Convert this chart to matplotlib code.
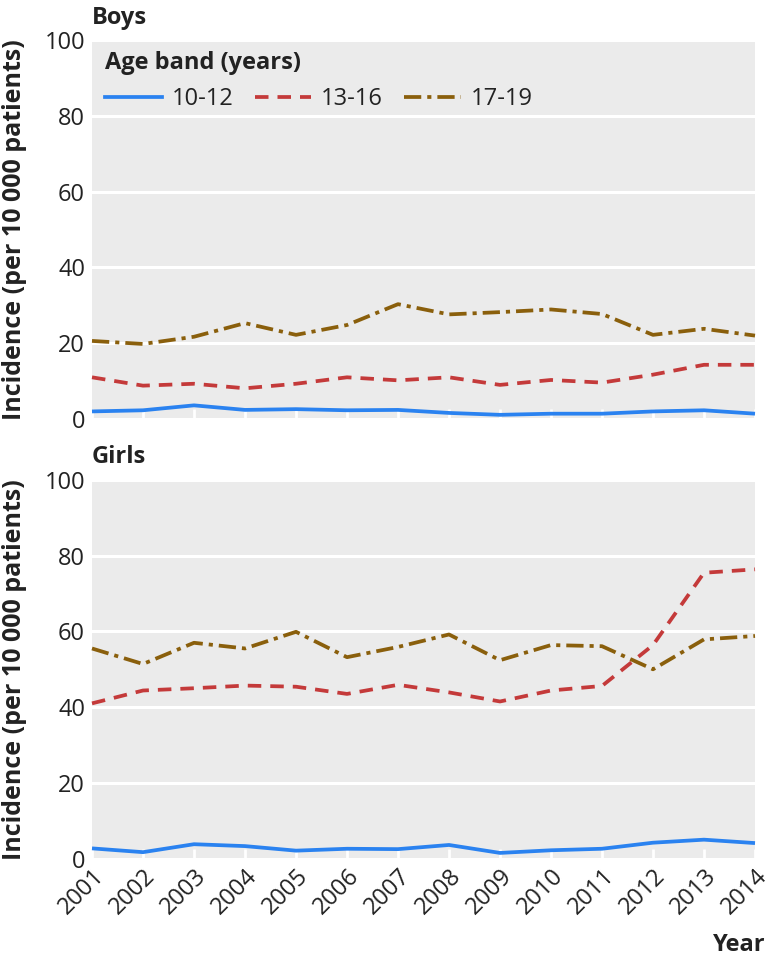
import matplotlib
matplotlib.use("Agg")
import matplotlib.pyplot as plt
from matplotlib.lines import Line2D

years = [2001, 2002, 2003, 2004, 2005, 2006, 2007, 2008, 2009, 2010, 2011, 2012, 2013, 2014]
age_bands = ["10-12", "13-16", "17-19"]

boys_10_12 = [2.0, 2.3, 3.6, 2.4, 2.6, 2.3, 2.4, 1.6, 1.1, 1.4, 1.4, 2.0, 2.3, 1.4]
boys_13_16 = [11.0, 8.8, 9.3, 8.1, 9.3, 11.0, 10.2, 11.0, 9.0, 10.3, 9.6, 11.7, 14.3, 14.3]
boys_17_19 = [20.6, 19.8, 21.7, 25.3, 22.2, 24.8, 30.3, 27.6, 28.2, 28.9, 27.7, 22.2, 23.8, 22.0]

girls_10_12 = [2.7, 1.7, 3.8, 3.3, 2.1, 2.6, 2.5, 3.6, 1.5, 2.2, 2.6, 4.2, 5.0, 4.1]
girls_13_16 = [41.0, 44.4, 45.0, 45.7, 45.4, 43.5, 45.9, 43.9, 41.5, 44.4, 45.6, 56.4, 75.5, 76.4]
girls_17_19 = [55.5, 51.4, 57.0, 55.5, 59.9, 53.2, 55.9, 59.2, 52.4, 56.4, 56.1, 50.0, 57.9, 58.8]

yticks = [0, 20, 40, 60, 80, 100]

FONT = ["Open Sans", "DejaVu Sans"]
plt.rcParams["font.family"] = FONT

colors = ["#2a82f0", "#c43a3a", "#8a5f0c"]
lw = 2.7
styles = ["-", (0, (3.6, 2.4)), (0, (4.6, 1.6, 1.1, 1.6))]

W, H = 776, 967
fig = plt.figure(figsize=(W / 100, H / 100), dpi=100)

def fx(px):
    return px / W

def fy(py):
    return 1 - py / H

left, right = 92, 755
ax1 = fig.add_axes([fx(left), fy(419), fx(right - left), (419 - 40) / H])
ax2 = fig.add_axes([fx(left), fy(858.6), fx(right - left), (858.6 - 480) / H])

panels = [
    (ax1, [boys_10_12, boys_13_16, boys_17_19], "Boys", 18),
    (ax2, [girls_10_12, girls_13_16, girls_17_19], "Girls", 457),
]

tick_color = "#222222"
TICK_FS = 17
for ax, series, title, ty in panels:
    ax.set_facecolor("#ebebeb")
    for s, c, ls in zip(series, colors, styles):
        ax.plot(years, s, color=c, lw=lw, linestyle=ls, solid_capstyle="butt",
                dash_capstyle="butt", clip_on=False, zorder=3)
    ax.set_xlim(years[0], years[-1])
    ax.set_ylim(0, 100)
    ax.set_yticks(yticks)
    ax.set_yticklabels([str(v) for v in yticks], fontsize=TICK_FS, color=tick_color)
    ax.set_xticks(years)
    ax.grid(True, axis="y", color="white", lw=2.2)
    ax.set_axisbelow(True)
    for sp in ax.spines.values():
        sp.set_visible(False)
    ax.tick_params(axis="y", length=0, pad=5)
    ax.tick_params(axis="x", direction="in", length=7, width=2, color="white", pad=4)
    ax.set_ylabel("Incidence (per 10 000 patients)", fontsize=18, fontweight="bold",
                  color=tick_color)
    ax.yaxis.set_label_coords((27 - left) / (right - left), 0.5)
    fig.text(fx(left), fy(ty), title, fontsize=17, fontweight="bold", color=tick_color,
             ha="left", va="center")

ax1.set_xticklabels([])
ax2.set_xticklabels([str(y) for y in years], rotation=45, ha="right",
                    rotation_mode="anchor", fontsize=TICK_FS, color=tick_color)

handles = [Line2D([0], [0], color=c, lw=lw, linestyle=ls) for c, ls in zip(colors, styles)]
leg = ax1.legend(handles, age_bands, title="Age band (years)", ncol=3, loc="upper left",
                 bbox_to_anchor=(13 / (right - left), 1 - 11 / 379), frameon=False,
                 fontsize=TICK_FS, handlelength=2.4, columnspacing=0.9,
                 handletextpad=0.42, alignment="left", borderaxespad=0, borderpad=0)
leg.get_title().set_fontweight("bold")
leg.get_title().set_fontsize(17)
leg.get_title().set_color(tick_color)
for t in leg.get_texts():
    t.set_color(tick_color)

fig.text(fx(766), fy(945), "Year", fontsize=17, fontweight="bold", color=tick_color,
         ha="right", va="center")

fig.savefig("out.png", dpi=100)
